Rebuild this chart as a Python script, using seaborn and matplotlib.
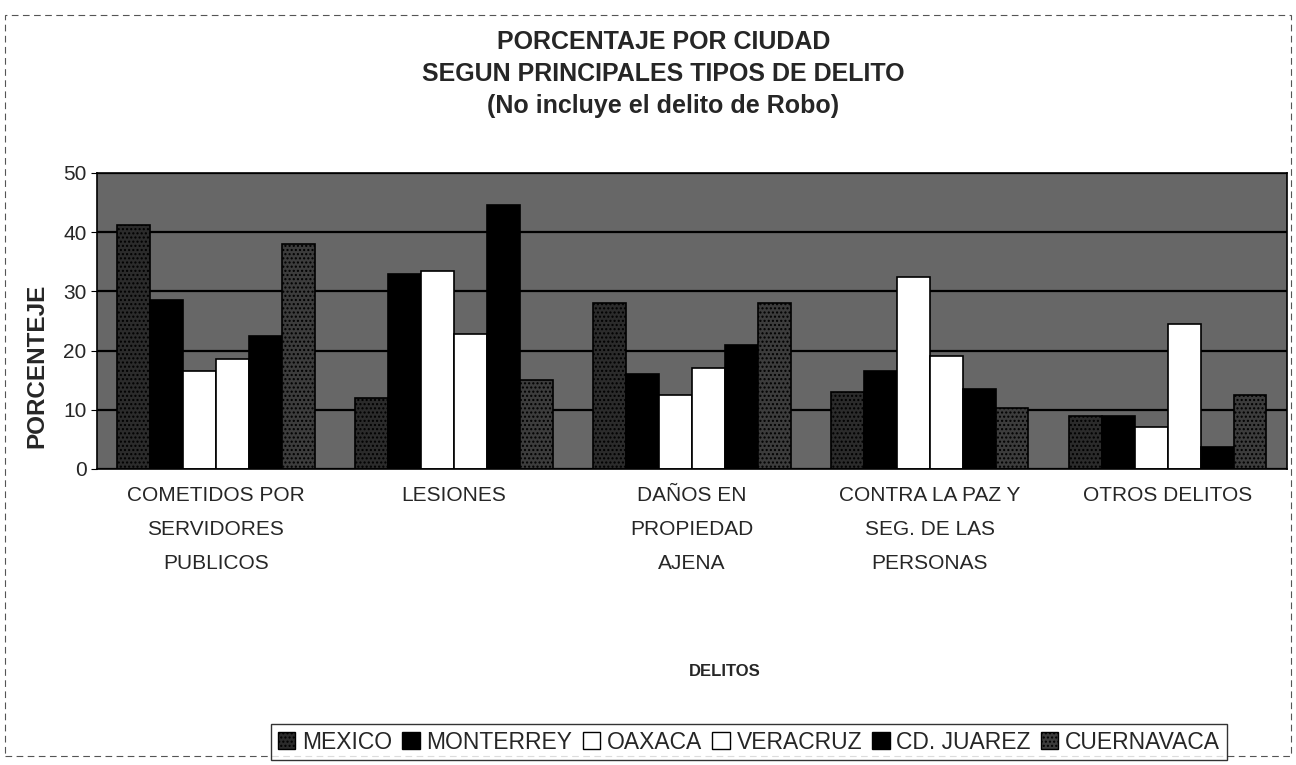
import pandas as pd
import seaborn as sns
import matplotlib.pyplot as plt
from matplotlib.patches import Rectangle

# categories and series (percentages)
delitos = ["COMETIDOS POR\nSERVIDORES\nPUBLICOS", "LESIONES",
           "DAÑOS EN\nPROPIEDAD\nAJENA", "CONTRA LA PAZ Y\nSEG. DE LAS\nPERSONAS",
           "OTROS DELITOS"]
ciudades = ["MEXICO", "MONTERREY", "OAXACA", "VERACRUZ", "CD. JUAREZ", "CUERNAVACA"]

mexico = [41.2, 12.0, 28.0, 13.0, 9.0]
monterrey = [28.5, 33.0, 16.0, 16.5, 9.0]
oaxaca = [16.5, 33.5, 12.5, 32.5, 7.0]
veracruz = [18.5, 22.8, 17.0, 19.0, 24.5]
cd_juarez = [22.5, 44.5, 21.0, 13.5, 3.7]
cuernavaca = [38.0, 15.0, 28.0, 10.3, 12.5]

colores = ["#2b2b2b", "#000000", "#ffffff", "#ffffff", "#000000", "#3c3c3c"]
tramas = ["....", None, None, None, None, "...."]

series = [mexico, monterrey, oaxaca, veracruz, cd_juarez, cuernavaca]
df = pd.DataFrame(
    [(d, c, v) for c, vals in zip(ciudades, series) for d, v in zip(delitos, vals)],
    columns=["delito", "ciudad", "pct"],
)

sns.set_style("white")
plt.rcParams["font.family"] = ["Liberation Sans", "DejaVu Sans"]
plt.rcParams["hatch.color"] = "#9a9a9a"

fig = plt.figure(figsize=(12.96, 7.65), dpi=100)
ax = fig.add_axes([0.0748, 0.387, 0.918, 0.387])
ax.set_facecolor("#676767")

sns.barplot(data=df, x="delito", y="pct", hue="ciudad", order=delitos,
            hue_order=ciudades, palette=colores, saturation=1, width=0.83,
            edgecolor="black", linewidth=1.2, ax=ax, legend=False)

for cont, h in zip(ax.containers, tramas):
    if h:
        for b in cont:
            b.set_hatch(h)

ax.set_ylim(0, 50)
ax.set_yticks(range(0, 51, 10))
ax.yaxis.grid(True, color="black", linewidth=1.6)
ax.set_axisbelow(True)
for s in ax.spines.values():
    s.set_color("black")
    s.set_linewidth(1.2)
ax.tick_params(axis="y", labelsize=15, length=4, color="black", left=True)
ax.tick_params(axis="x", labelsize=15, length=0, pad=12)
for t in ax.get_xticklabels():
    t.set_linespacing(2.0)
    t.set_verticalalignment("top")
ax.set_xlabel("")
ax.set_ylabel("PORCENTEJE", fontsize=17.5, fontweight="bold", labelpad=12)
ax.yaxis.set_label_coords(-0.041, 0.35)

fig.text(0.512, 0.945, "PORCENTAJE POR CIUDAD", ha="center", va="center",
         fontsize=18, fontweight="bold")
fig.text(0.512, 0.903, "SEGUN PRINCIPALES TIPOS DE DELITO", ha="center", va="center",
         fontsize=18, fontweight="bold")
fig.text(0.512, 0.861, "(No incluye el delito de Robo)", ha="center", va="center",
         fontsize=18, fontweight="bold")
fig.text(0.559, 0.122, "DELITOS", ha="center", va="center", fontsize=12,
         fontweight="bold")

handles = [Rectangle((0, 0), 1, 1, facecolor=c, edgecolor="black", hatch=h, linewidth=1)
           for c, h in zip(colores, tramas)]
leg = fig.legend(handles, ciudades, loc="center", bbox_to_anchor=(0.578, 0.03),
                 ncol=6, fontsize=16.5, frameon=True, fancybox=False,
                 handlelength=0.75, handleheight=0.75, handletextpad=0.3,
                 columnspacing=0.45, borderpad=0.3)
leg.get_frame().set_edgecolor("black")
leg.get_frame().set_linewidth(1)

# faint border of the scanned chart area
fig.patches.append(Rectangle((0.004, 0.012), 0.992, 0.968, transform=fig.transFigure,
                             fill=False, edgecolor="#555555", linewidth=0.8,
                             linestyle=(0, (6, 4))))

fig.savefig("out.png", dpi=100)
